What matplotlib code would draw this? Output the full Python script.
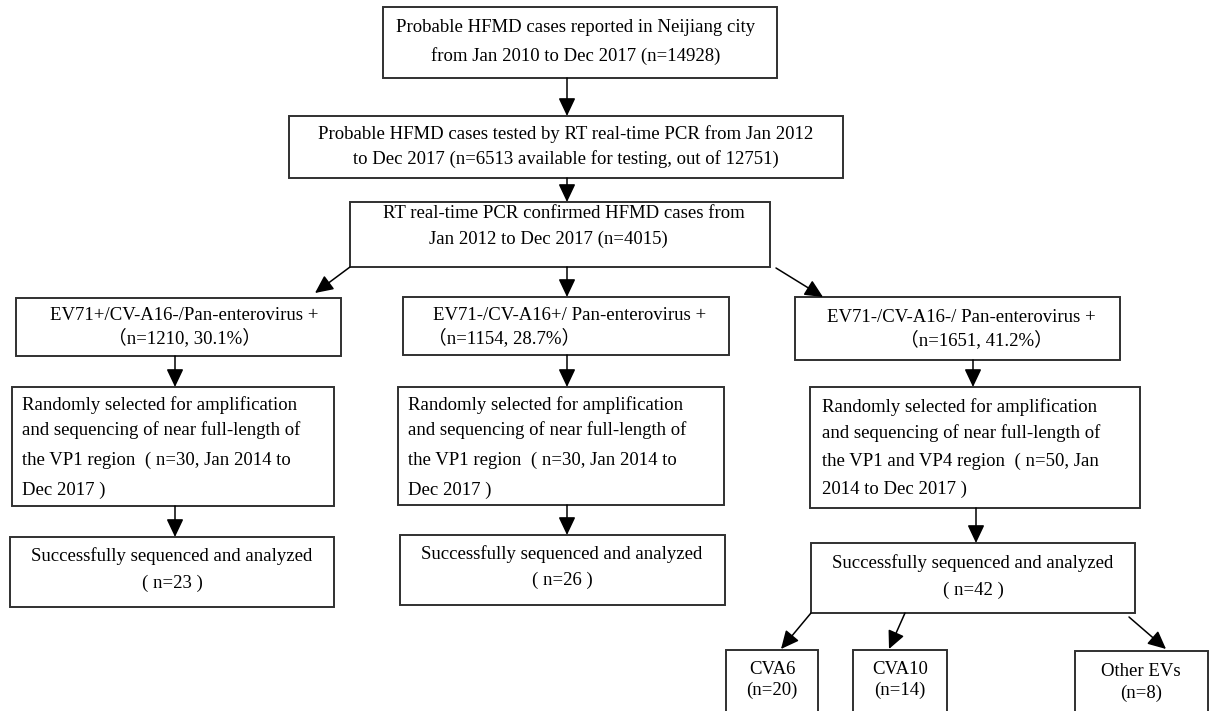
import matplotlib.pyplot as plt
from matplotlib.patches import Rectangle

plt.rcParams['font.family'] = ['Liberation Serif', 'Noto Sans CJK SC']

# texto de cada caixa do fluxograma
textos = {
    "inicio": ["Probable HFMD cases reported in Neijiang city",
               "from Jan 2010 to Dec 2017 (n=14928)"],
    "pcr": ["Probable HFMD cases tested by RT real-time PCR from Jan 2012",
            "to Dec 2017 (n=6513 available for testing, out of 12751)"],
    "confirmados": ["RT real-time PCR confirmed HFMD cases from",
                    "Jan 2012 to Dec 2017 (n=4015)"],
    "ev71": ["EV71+/CV-A16-/Pan-enterovirus +", "（n=1210, 30.1%）"],
    "cva16": ["EV71-/CV-A16+/ Pan-enterovirus +", "（n=1154, 28.7%）"],
    "outros": ["EV71-/CV-A16-/ Pan-enterovirus +", "（n=1651, 41.2%）"],
    "sel_ev71": ["Randomly selected for amplification",
                 "and sequencing of near full-length of",
                 "the VP1 region  ( n=30, Jan 2014 to",
                 "Dec 2017 )"],
    "sel_cva16": ["Randomly selected for amplification",
                  "and sequencing of near full-length of",
                  "the VP1 region  ( n=30, Jan 2014 to",
                  "Dec 2017 )"],
    "sel_outros": ["Randomly selected for amplification",
                   "and sequencing of near full-length of",
                   "the VP1 and VP4 region  ( n=50, Jan",
                   "2014 to Dec 2017 )"],
    "seq_ev71": ["Successfully sequenced and analyzed", "( n=23 )"],
    "seq_cva16": ["Successfully sequenced and analyzed", "( n=26 )"],
    "seq_outros": ["Successfully sequenced and analyzed", "( n=42 )"],
    "cva6": ["CVA6", "(n=20)"],
    "cva10": ["CVA10", "(n=14)"],
    "other": ["Other EVs", "(n=8)"],
}

# layout: caixa (x0, y0, x1, y1), posicao x do texto, alinhamento, posicoes y das linhas
layout = {
    "inicio": ((383, 7, 777, 78), [576, 576], "center", [28, 56]),
    "pcr": ((289, 116, 843, 178), [566, 566], "center", [134, 159]),
    "confirmados": ((350, 202, 770, 267), [383, 429], "left", [213, 239]),
    "ev71": ((16, 298, 341, 356), [184, 184], "center", [316, 338]),
    "cva16": ((403, 297, 729, 355), [433, 428], "left", [316, 338]),
    "outros": ((795, 297, 1120, 360), [827, 900], "left", [317, 340]),
    "sel_ev71": ((12, 387, 334, 506), [22] * 4, "left", [405, 430, 460, 490]),
    "sel_cva16": ((398, 387, 724, 505), [408] * 4, "left", [405, 430, 460, 490]),
    "sel_outros": ((810, 387, 1140, 508), [822] * 4, "left", [407, 433, 461, 489]),
    "seq_ev71": ((10, 537, 334, 607), [172, 172], "center", [556, 583]),
    "seq_cva16": ((400, 535, 725, 605), [562, 562], "center", [554, 580]),
    "seq_outros": ((811, 543, 1135, 613), [973, 973], "center", [563, 590]),
    "cva6": ((726, 650, 818, 716), [772, 772], "center", [669, 690]),
    "cva10": ((853, 650, 947, 716), [900, 900], "center", [669, 690]),
    "other": ((1075, 651, 1208, 716), [1141, 1141], "center", [672, 693]),
}

# setas: (inicio, ponta)
setas = [
    ((567, 78), (567, 116)),
    ((567, 178), (567, 202)),
    ((350, 267), (315, 293)),
    ((567, 267), (567, 297)),
    ((776, 268), (823, 297)),
    ((175, 356), (175, 387)),
    ((567, 355), (567, 387)),
    ((973, 360), (973, 387)),
    ((175, 506), (175, 537)),
    ((567, 505), (567, 535)),
    ((976, 508), (976, 543)),
    ((811, 613), (781, 649)),
    ((905, 613), (889, 649)),
    ((1129, 617), (1166, 649)),
]

fig = plt.figure(figsize=(12.1, 7.11), dpi=100)
ax = fig.add_axes([0, 0, 1, 1])
ax.set_xlim(0, 1210)
ax.set_ylim(711, 0)
ax.axis("off")

for nome, linhas in textos.items():
    (x0, y0, x1, y1), xs, alinhamento, ys = layout[nome]
    ax.add_patch(Rectangle((x0, y0), x1 - x0, y1 - y0, facecolor="white",
                           edgecolor="#303030", lw=1.4))
    for linha, xt, yt in zip(linhas, xs, ys):
        ax.text(xt, yt, linha, ha=alinhamento, va="center", fontsize=13.5,
                color="black")

for inicio, ponta in setas:
    ax.annotate("", xy=ponta, xytext=inicio,
                arrowprops=dict(arrowstyle="-|>,head_length=0.55,head_width=0.26",
                                mutation_scale=20, color="black", lw=1.1,
                                shrinkA=0, shrinkB=0))

plt.savefig("out.png", dpi=100)
plt.close()
